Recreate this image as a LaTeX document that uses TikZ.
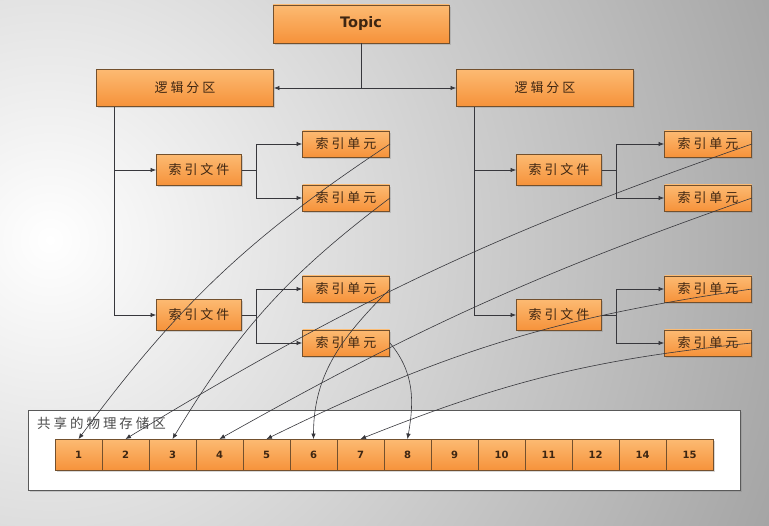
\documentclass[tikz,border=0pt]{standalone}
\usepackage{fontspec}
\setmainfont{DejaVu Sans}
\newfontfamily\cjk[LetterSpace=22]{Noto Sans CJK SC}
\usetikzlibrary{arrows.meta,positioning,shadows}
\definecolor{peel}{RGB}{252,186,114}
\definecolor{tangerine}{RGB}{246,146,58}
\definecolor{rust}{RGB}{115,80,45}
\definecolor{bark}{RGB}{62,38,18}
\definecolor{ink}{RGB}{55,55,60}
\tikzset{
  >={Latex[length=5.5pt,width=4.5pt]},
  obox/.style={draw=rust,top color=peel,bottom color=tangerine,line width=0.9pt,
    minimum width=#1,minimum height=26pt,inner sep=0pt,text=bark,
    font=\cjk\fontsize{13}{15}\selectfont,
    drop shadow={opacity=0.3,shadow xshift=1.8pt,shadow yshift=-1.8pt}},
  obox/.default=87pt,
  cell/.style={obox=47pt,minimum height=31pt,font=\bfseries\fontsize{10}{12}\selectfont},
  shelf/.style={draw=gray!70!black,fill=white,line width=0.8pt,minimum width=712pt,
    minimum height=80pt,drop shadow={opacity=0.3,shadow xshift=2pt,shadow yshift=-2pt}},
  flow/.style={draw=ink,line width=0.7pt},
  link/.style={->,draw=ink,line width=0.6pt},
  tag/.style={font=\cjk\fontsize{13.5}{15}\selectfont,text=gray!60!black},
}

\begin{document}
\begin{tikzpicture}[x=1pt,y=1pt]
  % backdrop
  \useasboundingbox (0,0) rectangle (769,-526);
  \begin{scope}
    \clip (0,0) rectangle (769,-526);
    \shade[inner color=white,outer color=gray!75] (50,-240) circle (820);
  \end{scope}
  % topic and partitions
  \node[obox=176pt,minimum height=38pt,font=\fontsize{14.5}{16}\selectfont\bfseries] (topic) at (361,-24) {Topic};
  \foreach \s/\x/\u in {l/185/346,r/545/708}{
    \node[obox=177pt,minimum height=37pt] (p\s) at (\x,-88) {逻辑分区};
    \foreach \j/\y in {1/-170,2/-315}{
      \node[obox=85pt,minimum height=31pt] (f\s\j) at (\x+14,\y) {索引文件};
      \node[obox] (u\s\j1) at (\u,\y+26) {索引单元};
      \node[obox] (u\s\j2) at (\u,\y-28) {索引单元};
      \draw[flow,->] ([xshift=18pt]p\s.south west) |- (f\s\j.west);
      \draw[flow,->] (f\s\j.east) -- ++(14,0) |- (u\s\j1.west);
      \draw[flow,->] (f\s\j.east) -- ++(14,0) |- (u\s\j2.west);
    }
  }
  \coordinate (hub) at (topic.south |- pl.east);
  \draw[flow] (topic.south) -- (hub);
  \draw[flow,<->] (pl.east) -- (pr.west);
  % shared storage
  \node[shelf] (shelf) at (384,-450) {};
  \node[tag,anchor=north west] (shelftag) at ([xshift=6pt,yshift=-4pt]shelf.north west) {共享的物理存储区};
  \foreach \n [count=\i] in {1,2,3,4,5,6,7,8,9,10,11,12,14,15}
    \node[cell] (c\i) at (31.5+47*\i,-455) {\n};
  % pointers
  \draw[link] (ul11.east) to[bend right=10] (c1.north);
  \draw[link] (ur11.east) to[bend right=6] (c2.north);
  \draw[link] (ul12.east) to[bend right=11] (c3.north);
  \draw[link] (ur12.east) to[bend right=5] (c4.north);
  \draw[link] (ur21.east) to[bend right=9] (c5.north);
  \draw[link] (ul21.east) to[out=225,in=90] (c6.north);
  \draw[link] (ur22.east) to[bend right=8] (c7.north);
  \draw[link] (ul22.east) to[out=-50,in=80] (c8.north);
\end{tikzpicture}
\end{document}
